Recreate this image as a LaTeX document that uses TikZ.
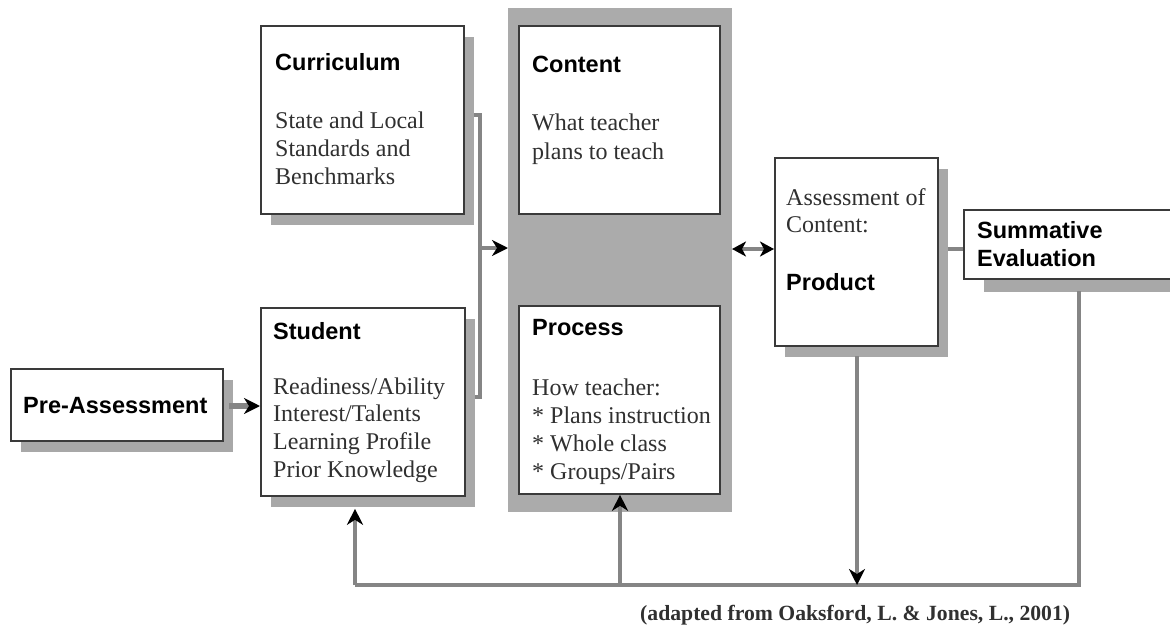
\documentclass[tikz,border=0pt]{standalone}
\usepackage{fontspec}
\setmainfont{Liberation Serif}
\newfontfamily\headfont{Liberation Sans}
\usetikzlibrary{arrows.meta,shadows}
\definecolor{shadc}{HTML}{A8A8A8}
\definecolor{panelc}{HTML}{ABABAB}
\definecolor{boxc}{HTML}{3A3A3A}
\definecolor{linec}{HTML}{858585}
\definecolor{bodyc}{HTML}{303030}
\tikzset{
  box/.style={draw=boxc, line width=1.8pt, fill=white, inner sep=0pt, anchor=north west},
  sbox/.style={box, drop shadow={shadow xshift=10pt, shadow yshift=-11pt, fill=shadc, opacity=1}},
  head/.style={anchor=base west, inner sep=0pt, font=\headfont\bfseries\fontsize{23.5}{28}\selectfont, text=black},
  body/.style={anchor=base west, inner sep=0pt, font=\fontsize{24}{28}\selectfont, text=bodyc},
  conn/.style={draw=linec, line width=3.5pt},
  tip/.style={-{Stealth[length=16pt,width=16pt,inset=5pt,color=black]}},
  dtip/.style={{Stealth[length=14pt,width=15pt,inset=4pt,color=black]}-{Stealth[length=14pt,width=15pt,inset=4pt,color=black]}}
}
\begin{document}
\begin{tikzpicture}[x=1pt,y=-1pt]
\useasboundingbox (0,0) rectangle (1170,629);
% gray panel
\node[anchor=north west, fill=panelc, inner sep=0pt, minimum width=224pt, minimum height=504pt] (panel) at (508,8) {};
% boxes
\node[sbox, minimum width=212pt, minimum height=72pt] (pre) at (10,368) {};
\node[sbox, minimum width=203pt, minimum height=188pt] (cur) at (260,25) {};
\node[sbox, minimum width=204pt, minimum height=188pt] (stu) at (260,307) {};
\node[box, minimum width=201pt, minimum height=188pt] (con) at (518,25) {};
\node[box, minimum width=201pt, minimum height=188pt] (pro) at (518,305) {};
\node[sbox, minimum width=163pt, minimum height=188pt] (prod) at (774,157) {};
\node[box, drop shadow={shadow xshift=20pt, shadow yshift=-13pt, fill=shadc, opacity=1}, minimum width=215pt, minimum height=69pt] (sum) at (963,209) {};
% texts
\node[head] (preT) at (23,413) {Pre-Assessment};
\node[head] (curH) at (275,70) {Curriculum};
\node[body] (curB1) at (275,128) {State and Local};
\node[body] (curB2) at (275,156) {Standards and};
\node[body] (curB3) at (275,184) {Benchmarks};
\node[head] (stuH) at (273,339) {Student};
\node[body] (stuB1) at (273,394) {Readiness/Ability};
\node[body] (stuB2) at (273,421) {Interest/Talents};
\node[body] (stuB3) at (273,449) {Learning Profile};
\node[body] (stuB4) at (273,477) {Prior Knowledge};
\node[head] (conH) at (532,72) {Content};
\node[body] (conB1) at (532,130) {What teacher};
\node[body] (conB2) at (532,159) {plans to teach};
\node[head] (proH) at (532,335) {Process};
\node[body] (proB1) at (532,395) {How teacher:};
\node[body] (proB2) at (532,423) {* Plans instruction};
\node[body] (proB3) at (532,451) {* Whole class};
\node[body] (proB4) at (532,479) {* Groups/Pairs};
\node[body] (prodB1) at (786,205) {Assessment of};
\node[body] (prodB2) at (786,232) {Content:};
\node[head] (prodH) at (786,290) {Product};
\node[head] (sumH1) at (977,238) {Summative};
\node[head] (sumH2) at (977,266) {Evaluation};
\node[anchor=base west, inner sep=0pt, font=\bfseries\fontsize{21.7}{26}\selectfont, text=bodyc] (cap) at (640,620) {(adapted from Oaksford, L. \& Jones, L., 2001)};
% connectors
\coordinate (pa) at (229,406);
\draw[conn, line width=5.5pt, tip] (pa) -- (pa -| stu.west);
\coordinate (bt) at (480,115);
\coordinate (bb) at (480,397);
\coordinate (bm) at (480,248);
\draw[conn] ([xshift=9pt]cur.east |- bt) -- (bt) -- (bb) -- ([xshift=9pt]stu.east |- bb);
\draw[conn, tip] (bm) -- (bm -| panel.west);
\coordinate (da) at (732,249);
\draw[conn, dtip] (da) -- (da -| prod.west);
\coordinate (ps) at (948,249);
\draw[conn] (ps) -- (ps -| sum.west);
\coordinate (fl) at (355,585);
\coordinate (fm) at (620,585);
\coordinate (fp) at (857,585);
\coordinate (fr) at (1079,585);
\coordinate (srt) at (1079,291);
\coordinate (pdt) at (857,356);
\draw[conn] (srt) -- (fr) -- (fl);
\draw[conn, tip] (pdt) -- (fp);
\draw[conn, tip] (fl) -- ([yshift=-12pt]stu.south -| fl);
\draw[conn, tip] (fm) -- (pro.south -| fm);
\end{tikzpicture}
\end{document}
